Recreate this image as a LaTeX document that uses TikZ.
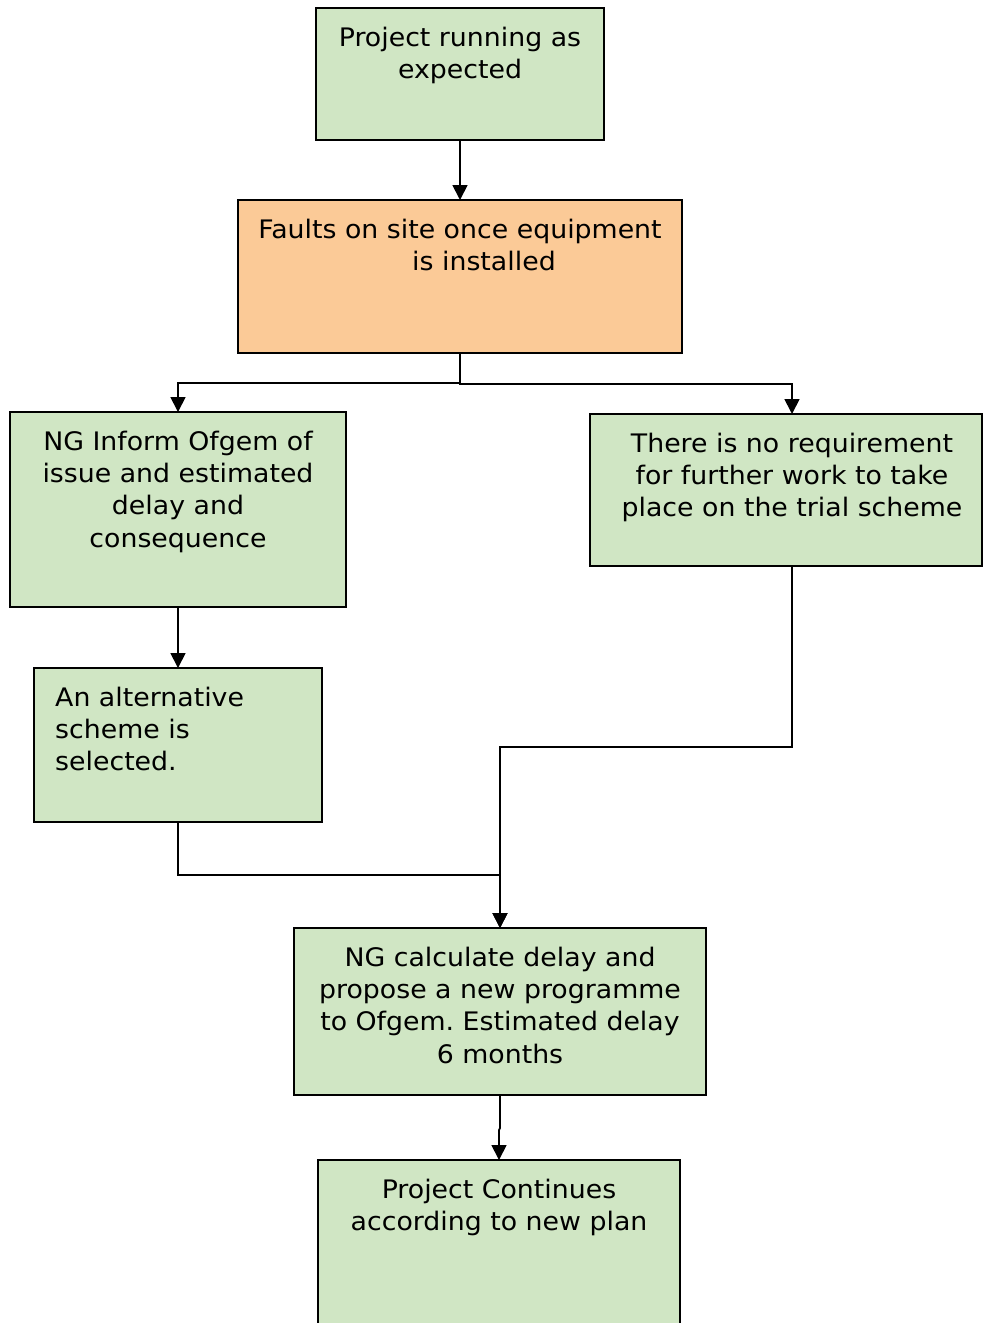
\documentclass[tikz,border=0pt]{standalone}
\usepackage{fontspec}
\setmainfont{DejaVu Sans}[FakeStretch=1.05]
\usetikzlibrary{arrows.meta}
\definecolor{boxgreen}{HTML}{D0E6C4}
\definecolor{boxorange}{HTML}{FBCA97}
\frenchspacing
% fixed ascent for the first line so every label sits on the same baseline offset
\newcommand{\topline}{\rule{0pt}{24pt}}
\tikzset{
  box/.style={draw=black, line width=1.8pt, inner sep=0pt},
  label/.style={inner sep=0pt, anchor=north, align=center, font=\fontsize{25.5}{32.3}\selectfont},
  link/.style={draw=black, line width=1.8pt, -{Triangle[width=15pt,length=15pt]}},
}
\begin{document}
\begin{tikzpicture}[x=1pt,y=-1pt]
\useasboundingbox (0,0) rectangle (983,1323);
\begin{scope}
\clip (0,0) rectangle (983,1323);
% boxes
\draw[box, fill=boxgreen] (316,8) rectangle (604,140);
\draw[box, fill=boxorange] (238,200) rectangle (682,353);
\draw[box, fill=boxgreen] (10,412) rectangle (346,607);
\draw[box, fill=boxgreen] (590,414) rectangle (982,566);
\draw[box, fill=boxgreen] (34,668) rectangle (322,822);
\draw[box, fill=boxgreen] (294,928) rectangle (706,1095);
\draw[box, fill=boxgreen] (318,1160) rectangle (680,1345);
\end{scope}
% connector end points on the box edges
\coordinate (run) at (460,140);
\coordinate (faultT) at (460,200);
\coordinate (faultB) at (460,353);
\coordinate (informT) at (178,412);
\coordinate (informB) at (178,607);
\coordinate (noreqT) at (792,414);
\coordinate (noreqB) at (792,566);
\coordinate (altT) at (178,668);
\coordinate (altB) at (178,822);
\coordinate (calcT) at (500,928);
\coordinate (calcB) at (500,1095);
\coordinate (contT) at (499,1160);
% texts
\node[label] (t1) at (460,22) {\topline Project running as\\expected};
\node[label] (t2) at (460,214) {\topline Faults on site once equipment\\\hspace*{48pt}is installed};
\node[label] (t3) at (178,426) {\topline NG Inform Ofgem of\\issue and estimated\\delay and\\consequence};
\node[label] (t4) at (792,428) {\topline There is no requirement\\for further work to take\\place on the trial scheme};
\node[label, anchor=north west, align=left] (t5) at (55,682) {\topline An alternative\\scheme is\\selected.};
\node[label] (t6) at (500,942) {\topline NG calculate delay and\\propose a new programme\\to Ofgem. Estimated delay\\6 months};
\node[label] (t7) at (499,1174) {\topline Project Continues\\according to new plan};
% connectors
\draw[link] (run) -- (faultT);
\draw[link] (faultB) -- (460,383) -- (178,383) -- (informT);
\draw[link] (faultB) -- (460,384) -- (792,384) -- (noreqT);
\draw[link] (informB) -- (altT);
\draw[link] (altB) -- (178,875) -- (500,875) -- (calcT);
\draw[link] (noreqB) -- (792,747) -- (500,747) -- (calcT);
\draw[link] (calcB) -- (500,1128) -- (499,1130) -- (contT);
\end{tikzpicture}
\end{document}
